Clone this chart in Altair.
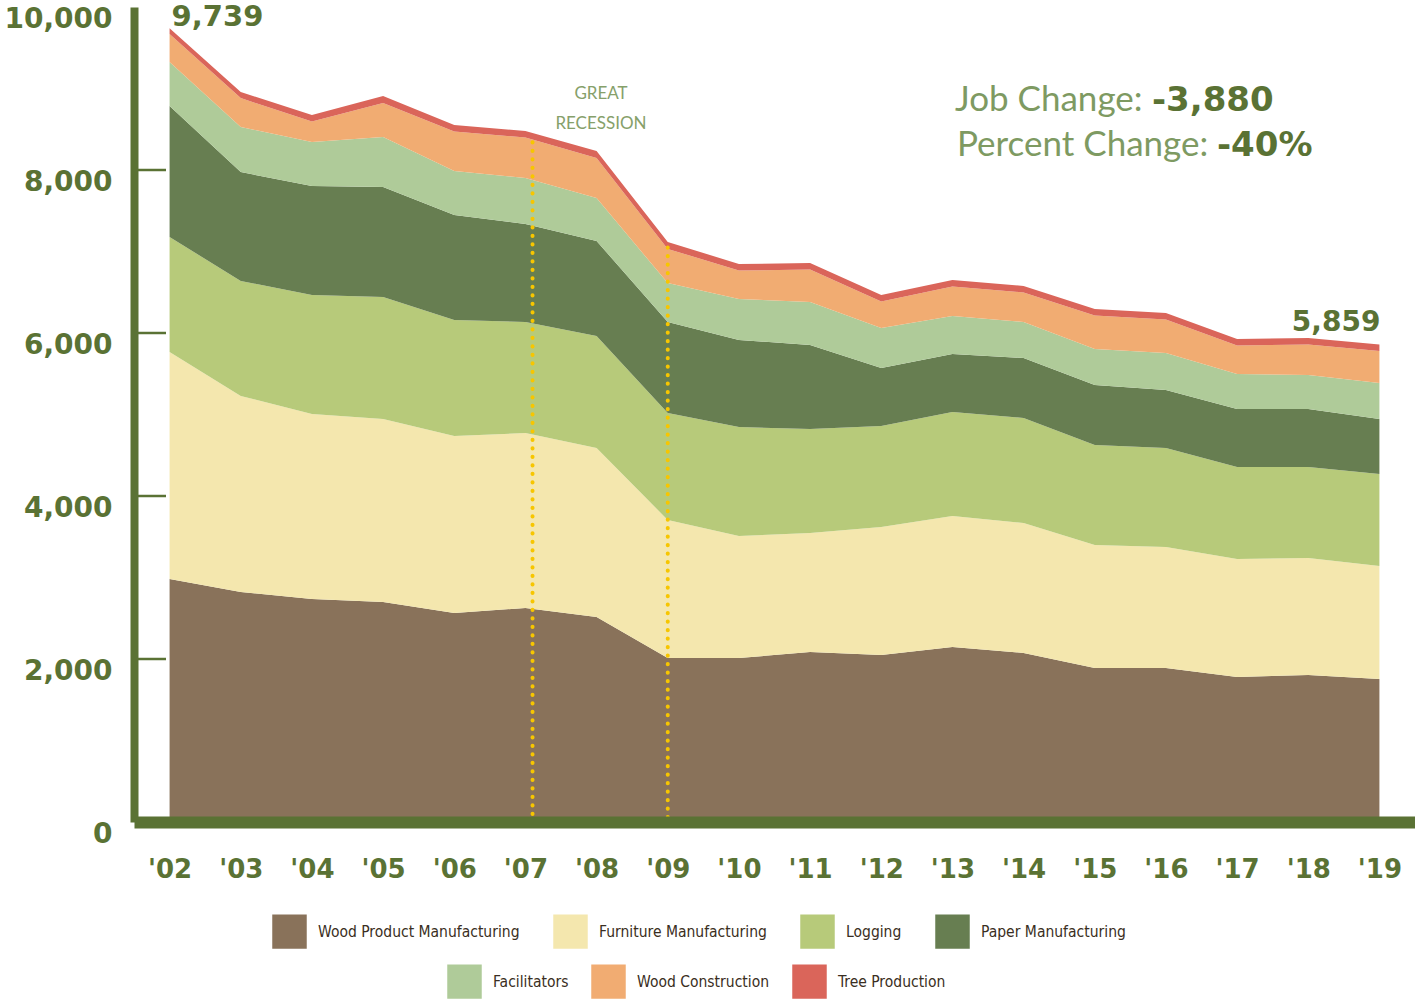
import altair as alt
import pandas as pd

years = list(range(2002, 2020))
series_names = ["Wood Product Manufacturing", "Furniture Manufacturing", "Logging",
                "Paper Manufacturing", "Facilitators", "Wood Construction", "Tree Production"]
colors = ["#89725A", "#F4E7AE", "#B7CA7A", "#677E51", "#AFCB99", "#F1AC72", "#DA655A"]

wood_product = [2982, 2822, 2736, 2699, 2564, 2626, 2515, 2012, 2012, 2086, 2049, 2147, 2074, 1890, 1890, 1779, 1804, 1755]
furniture = [2785, 2405, 2270, 2246, 2172, 2147, 2074, 1694, 1497, 1460, 1571, 1608, 1595, 1509, 1484, 1448, 1435, 1386]
logging = [1411, 1411, 1460, 1497, 1424, 1362, 1374, 1312, 1338, 1276, 1239, 1276, 1288, 1227, 1215, 1129, 1117, 1129]
paper = [1607, 1337, 1338, 1349, 1288, 1202, 1166, 1117, 1067, 1031, 712, 711, 736, 736, 712, 711, 711, 675]
facilitators = [540, 553, 540, 614, 540, 565, 527, 478, 503, 527, 490, 467, 442, 442, 454, 430, 418, 442]
wood_construction = [344, 354, 251, 418, 484, 497, 492, 419, 350, 399, 325, 361, 362, 410, 410, 349, 374, 392]
tree_production = [70, 75, 80, 85, 80, 80, 85, 85, 80, 80, 80, 80, 80, 80, 80, 80, 80, 80]

all_series = [wood_product, furniture, logging, paper, facilitators, wood_construction, tree_production]

recession_x = [2007.1, 2009.0]
recession_top = [8340, 7050]
y_ticks = [0, 2000, 4000, 6000, 8000, 10000]
inner_ticks = [2000, 4000, 6000, 8000]

GREEN = "#5A7234"
LIGHT_GREEN = "#7E9A62"
NUM_FONT = "DejaVu Sans"
TXT_FONT = "Lato"
LEG_FONT = "Liberation Sans Narrow, DejaVu Sans Condensed, Roboto, sans-serif"

rows = []
for i, (name, vals) in enumerate(zip(series_names, all_series)):
    for y, v in zip(years, vals):
        rows.append({"series": name, "year": y, "value": v, "idx": i})
df = pd.DataFrame(rows)

totals = [sum(s[k] for s in all_series) for k in range(len(years))]
df_first = pd.DataFrame({"year": [years[0]], "value": [totals[0]], "label": [f"{totals[0]:,}"]})
df_last = pd.DataFrame({"year": [years[-1]], "value": [totals[-1]], "label": [f"{totals[-1]:,}"]})

x_scale = alt.Scale(domain=[2001.5, 2019.5], nice=False, zero=False)
y_scale = alt.Scale(domain=[0, 10000], nice=False)

x_axis = alt.Axis(values=years, labelExpr="\"'\" + substring(toString(datum.value), 2)",
                  labelFont=NUM_FONT, labelFontSize=26, labelFontWeight="bold", labelColor=GREEN,
                  ticks=False, grid=False, domainWidth=12, domainColor=GREEN, labelPadding=34,
                  title=None, zindex=1, labelFlush=False, labelOverlap=False)
y_axis = alt.Axis(values=y_ticks, format=",.0f", labelFont=NUM_FONT, labelFontSize=28,
                  labelFontWeight="bold", labelColor=GREEN, ticks=False, grid=False,
                  domainWidth=8, domainColor=GREEN, labelPadding=22, labelOffset=12,
                  title=None, zindex=1, labelFlush=False, labelOverlap=False)

legend_common = dict(orient="none", direction="horizontal", symbolType="square", symbolSize=1190,
                     symbolStrokeWidth=0, labelFont=LEG_FONT, labelFontSize=15.5, labelColor="#3A2E22",
                     labelFontWeight=500, labelOffset=11, padding=0, title=None,
                     labelLimit=400, symbolOpacity=1)

areas = alt.Chart(df).mark_area(interpolate="linear", opacity=1).encode(
    x=alt.X("year:Q", scale=x_scale, axis=x_axis),
    y=alt.Y("value:Q", stack="zero", scale=y_scale, axis=y_axis),
    color=alt.Color("series:N", scale=alt.Scale(domain=series_names, range=colors),
                    legend=alt.Legend(values=series_names[:4], legendX=138, legendY=907,
                                      columnPadding=33, **legend_common)),
    order=alt.Order("idx:Q", sort="ascending"),
)

df_leg2 = pd.DataFrame({"series": series_names[4:], "year": [2002] * 3, "value": [-5000] * 3})
legend2 = alt.Chart(df_leg2).mark_square(clip=True, opacity=1).encode(
    x=alt.X("year:Q"),
    y=alt.Y("value:Q"),
    fill=alt.Fill("series:N", scale=alt.Scale(domain=series_names[4:], range=colors[4:]),
                  legend=alt.Legend(legendX=313, legendY=957, columnPadding=22, **legend_common)),
)

df_rec = pd.DataFrame({"year": recession_x, "top": recession_top, "base": [0, 0]})
rec_lines = alt.Chart(df_rec).mark_rule(color="#F7C600", strokeWidth=4, strokeDash=[0.3, 8.2],
                                        strokeCap="round").encode(
    x="year:Q", y="top:Q", y2="base:Q")

df_ticks = pd.DataFrame({"tick": inner_ticks})
ticks = alt.Chart(df_ticks).mark_rule(color=GREEN, strokeWidth=2.5).encode(
    y="tick:Q", x=alt.value(4), x2=alt.value(32))

first_lbl = alt.Chart(df_first).mark_text(align="left", baseline="alphabetic", dx=2, dy=-2,
                                          font=NUM_FONT, fontSize=29, fontWeight="bold",
                                          color=GREEN).encode(x="year:Q", y="value:Q", text="label:N")
last_lbl = alt.Chart(df_last).mark_text(align="right", baseline="alphabetic", dx=1, dy=-13,
                                        font=NUM_FONT, fontSize=28, fontWeight="bold",
                                        color=GREEN).encode(x="year:Q", y="value:Q", text="label:N")

def txt(s, x, y, **kw):
    return alt.Chart(pd.DataFrame({"t": [s]})).mark_text(**kw).encode(
        x=alt.value(x - 134), y=alt.value(y - 7), text="t:N")

rec_t1 = txt("GREAT", 601, 99, align="center", baseline="alphabetic", font=TXT_FONT, fontSize=17, color="#86A06A")
rec_t2 = txt("RECESSION", 601, 129, align="center", baseline="alphabetic", font=TXT_FONT, fontSize=17, color="#86A06A")
job1 = txt("Job Change:", 955, 111, align="left", baseline="alphabetic", font=TXT_FONT, fontSize=35,
           fontWeight="normal", color=LIGHT_GREEN)
job2 = txt("-3,880", 1152, 111, align="left", baseline="alphabetic", font=NUM_FONT, fontSize=34,
           fontWeight="bold", color=GREEN)
pct1 = txt("Percent Change:", 957, 156, align="left", baseline="alphabetic", font=TXT_FONT, fontSize=35,
           fontWeight="normal", color=LIGHT_GREEN)
pct2 = txt("-40%", 1217, 156, align="left", baseline="alphabetic", font=NUM_FONT, fontSize=34,
           fontWeight="bold", color=GREEN)

chart = alt.layer(areas, legend2, rec_lines, ticks, first_lbl, last_lbl,
                  rec_t1, rec_t2, job1, job2, pct1, pct2).properties(
    width=1281, height=815,
    padding={"left": 134, "top": 7, "right": 0, "bottom": 178},
    autosize=alt.AutoSizeParams(type="none"),
    background="white",
).configure_view(stroke=None)

chart.save("out.html", embed_options={"renderer": "svg", "actions": False})
